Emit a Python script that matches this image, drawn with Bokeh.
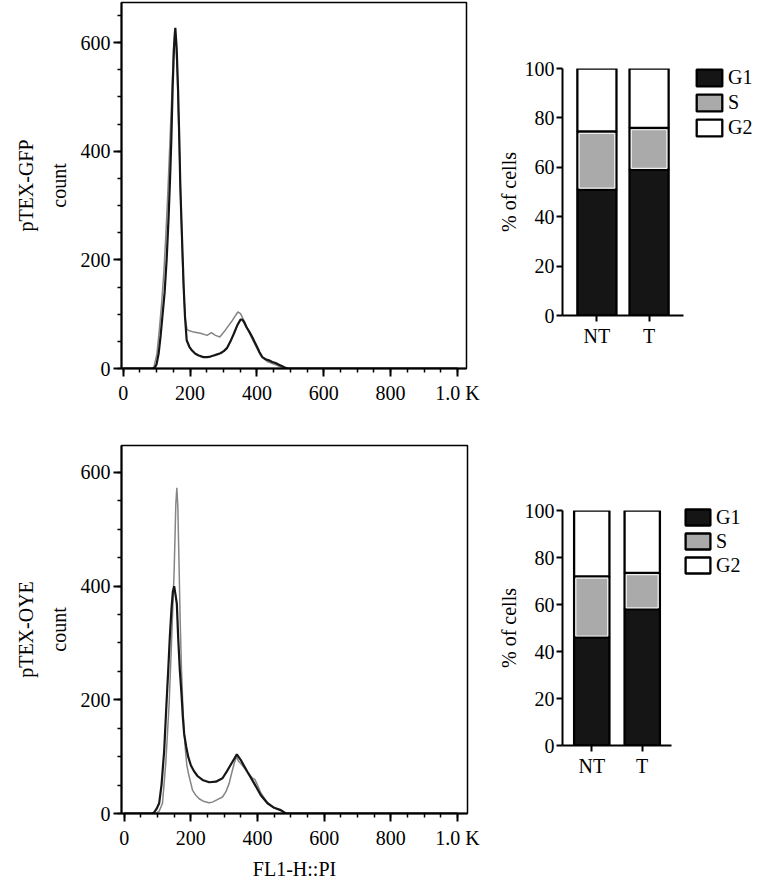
from bokeh.plotting import figure
from bokeh.layouts import row, column
from bokeh.models import (Range1d, FactorRange, FixedTicker, LinearAxis, Legend,
                          LegendItem, ColumnDataSource)
from bokeh.embed import file_html
from bokeh.resources import INLINE

FONT = "Liberation Serif"
FS = "20px"

# ---------------- data ----------------
# pTEX-GFP histogram (count vs FL1-H::PI)
gfp_black_x = [0, 90, 95, 100, 106, 112, 118, 124, 130, 136, 140, 144, 148, 152, 156, 160, 164, 168, 171, 176,
               181, 185, 190, 198, 206, 216, 226, 240, 251, 261, 271, 281, 291, 301, 311, 321, 331, 341, 351, 356,
               361, 369, 378, 386, 394, 401, 408, 416, 426, 436, 446, 456, 466, 476, 486, 495, 1000]
gfp_black_y = [0, 0, 2, 8, 27, 60, 100, 140, 200, 280, 345, 420, 517, 590, 627, 590, 517, 420, 334, 240,
               150, 95, 52, 40, 33, 27, 24, 21, 21, 22, 24, 26, 28, 32, 38, 50, 64, 79, 90, 90,
               86, 76, 67, 58, 48, 39, 30, 21, 17, 15, 12, 10, 7, 4, 1, 0, 0]
gfp_gray_x = [0, 85, 92, 101, 108, 115, 122, 128, 134, 140, 146, 150, 154, 158, 162, 166, 170, 174, 178, 182,
              186, 191, 196, 211, 231, 251, 264, 276, 289, 306, 326, 343, 351, 366, 381, 396, 411, 431, 456, 476,
              485, 1000]
gfp_gray_y = [0, 0, 3, 27, 70, 120, 180, 250, 330, 420, 510, 580, 622, 600, 540, 450, 360, 270, 190, 130,
              90, 72, 70, 67, 65, 61, 66, 61, 58, 71, 88, 104, 101, 82, 61, 42, 24, 13, 7, 1,
              0, 0]

# pTEX-OYE histogram
oye_black_x = [0, 85, 90, 97, 105, 112, 120, 127, 132, 137, 142, 146, 150, 154, 158, 162, 167, 172, 176, 180,
               186, 192, 200, 210, 220, 235, 255, 275, 295, 310, 325, 338, 350, 370, 390, 410, 430, 450, 470, 485,
               1000]
oye_black_y = [0, 0, 2, 8, 18, 50, 110, 194, 250, 311, 360, 390, 400, 385, 369, 310, 252, 210, 170, 140,
               118, 100, 85, 74, 66, 59, 55, 56, 62, 76, 91, 104, 94, 73, 53, 32, 18, 10, 6, 0,
               0]
oye_gray_x = [0, 95, 105, 115, 125, 135, 142, 150, 155, 158, 161, 165, 168, 172, 176, 180, 184, 188, 193, 205,
              215, 225, 240, 255, 265, 275, 295, 305, 315, 322, 330, 337, 343, 350, 370, 385, 392, 400, 410, 430,
              450, 470, 485, 1000]
oye_gray_y = [0, 0, 4, 18, 90, 194, 300, 428, 545, 573, 540, 428, 340, 252, 190, 140, 110, 85, 70, 41,
              32, 26, 21, 19, 20, 23, 29, 38, 53, 70, 88, 100, 92, 88, 73, 62, 60, 50, 36, 19,
              10, 5, 0, 0]

hist_xticks = [0, 200, 400, 600, 800, 1000]
hist_xlabels = ["0", "200", "400", "600", "800", "1.0 K"]
hist_yticks = [0, 200, 400, 600]

# cell-cycle phase percentages
groups = ["NT", "T"]
phases = ["G1", "S", "G2"]
gfp_G1 = [51, 59]
gfp_S = [23.5, 17]
gfp_G2 = [25.5, 24]
oye_G1 = [46, 58]
oye_S = [26, 15.5]
oye_G2 = [28, 26.5]
bar_yticks = [0, 20, 40, 60, 80, 100]


def style_axis(ax):
    ax.axis_line_width = 2
    ax.axis_line_color = "black"
    ax.major_tick_line_width = 2
    ax.major_tick_line_color = "black"
    ax.minor_tick_line_width = 1.5
    ax.minor_tick_line_color = "black"
    ax.major_tick_in = 0
    ax.minor_tick_in = 0
    ax.major_label_text_font = FONT
    ax.major_label_text_font_size = FS
    ax.major_label_text_color = "black"
    ax.axis_label_text_font = FONT
    ax.axis_label_text_font_size = FS
    ax.axis_label_text_font_style = "normal"
    ax.axis_label_text_color = "black"


def hist_fig(bx, by, gx, gy, name, xlabel, xr, ymax, fw, fh, mbl, mbt, mbr, mbb):
    p = figure(frame_width=fw, frame_height=fh, x_range=Range1d(*xr), y_range=Range1d(0, ymax),
               min_border_left=mbl, min_border_top=mbt, min_border_right=mbr, min_border_bottom=mbb,
               output_backend="svg", toolbar_location=None)
    p.grid.visible = False
    p.outline_line_color = "black"
    p.outline_line_width = 1.5
    p.line(gx, gy, line_color="#858585", line_width=1.5)
    p.line(bx, by, line_color="#161616", line_width=2.2)

    xa = p.xaxis[0]
    style_axis(xa)
    xa.ticker = FixedTicker(ticks=hist_xticks, minor_ticks=list(range(0, 1001, 50)))
    xa.major_label_overrides = {t: l for t, l in zip(hist_xticks, hist_xlabels)}
    xa.major_tick_out = 8
    xa.minor_tick_out = 4
    xa.major_label_standoff = 5
    if xlabel:
        xa.axis_label = xlabel
        xa.axis_label_standoff = 6

    ya = p.yaxis[0]
    style_axis(ya)
    ya.ticker = FixedTicker(ticks=hist_yticks, minor_ticks=list(range(0, 651, 50)))
    ya.major_tick_out = 8
    ya.minor_tick_out = 4
    ya.major_label_standoff = 3
    ya.axis_label = "count"
    ya.axis_label_standoff = 8

    ax2 = LinearAxis(axis_label=name, ticker=FixedTicker(ticks=[]), axis_line_color=None,
                     major_tick_out=0, minor_tick_out=0, major_tick_in=0, minor_tick_in=0,
                     major_label_text_font_size="0px", axis_label_standoff=8)
    style_axis(ax2)
    ax2.axis_line_color = None
    p.add_layout(ax2, "left")
    return p


def bar_fig(g1, s, g2, pad, bw, fw, fh, mbl, mbt, mbr, mbb, leg_xy, gw, gh, lh):
    p = figure(x_range=FactorRange(factors=groups, range_padding=pad, range_padding_units="absolute"),
               y_range=Range1d(0, 100), frame_width=fw, frame_height=fh,
               min_border_left=mbl, min_border_top=mbt, min_border_right=mbr, min_border_bottom=mbb,
               output_backend="svg", toolbar_location=None)
    p.grid.visible = False
    p.outline_line_color = None
    src = ColumnDataSource(dict(cat=groups, G1=g1, S=s, G2=g2))
    rs = p.vbar_stack(phases, x="cat", width=bw, source=src,
                      fill_color=["#151515", "#aaaaaa", "#ffffff"],
                      line_color="black", line_width=2.3)
    # lighter inner rim of the S segment
    inner_bottom = [a + 0.6 for a in g1]
    inner_top = [a + b - 0.8 for a, b in zip(g1, s)]
    p.vbar(x=groups, bottom=inner_bottom, top=inner_top, width=bw - 0.07,
           fill_color="#aaaaaa", line_color="#eeeeee", line_width=1.2)

    ya = p.yaxis[0]
    style_axis(ya)
    ya.ticker = FixedTicker(ticks=bar_yticks)
    ya.major_tick_out = 6
    ya.major_label_standoff = 2
    ya.axis_label = "% of cells"
    ya.axis_label_standoff = 2

    xa = p.xaxis[0]
    style_axis(xa)
    xa.major_tick_out = 6
    xa.major_label_standoff = 3

    # legend glyph area is inset by 10% on each side when drawn
    legend = Legend(items=[LegendItem(label=ph, renderers=[r]) for ph, r in zip(phases, rs)],
                    location=leg_xy, glyph_width=gw, glyph_height=gh, label_standoff=3,
                    label_height=lh, spacing=0, padding=0, margin=0,
                    border_line_color=None, background_fill_alpha=0,
                    label_text_font=FONT, label_text_font_size=FS, label_text_color="black")
    p.add_layout(legend, "right")
    return p


pA = hist_fig(gfp_black_x, gfp_black_y, gfp_gray_x, gfp_gray_y, "pTEX-GFP", None,
              (-5, 1027), 673.7, 345, 366, 121, 2, 24, 50)
pC = hist_fig(oye_black_x, oye_black_y, oye_gray_x, oye_gray_y, "pTEX-OYE", "FL1-H::PI",
              (-8, 1030), 647.5, 346, 368, 119, 27, 25, 68)
pB = bar_fig(gfp_G1, gfp_S, gfp_G2, 0.16, 0.75, 121, 247, 72, 68, 74, 40, (10, 175), 32, 21, 25)
pD = bar_fig(oye_G1, oye_S, oye_G2, 0.08, 0.70, 109, 235, 70, 155, 88, 40, (11, 168), 31, 20, 24)

layout = row(column(pA, pC), column(pB, pD))
open("out.html", "w").write(file_html(layout, INLINE))
